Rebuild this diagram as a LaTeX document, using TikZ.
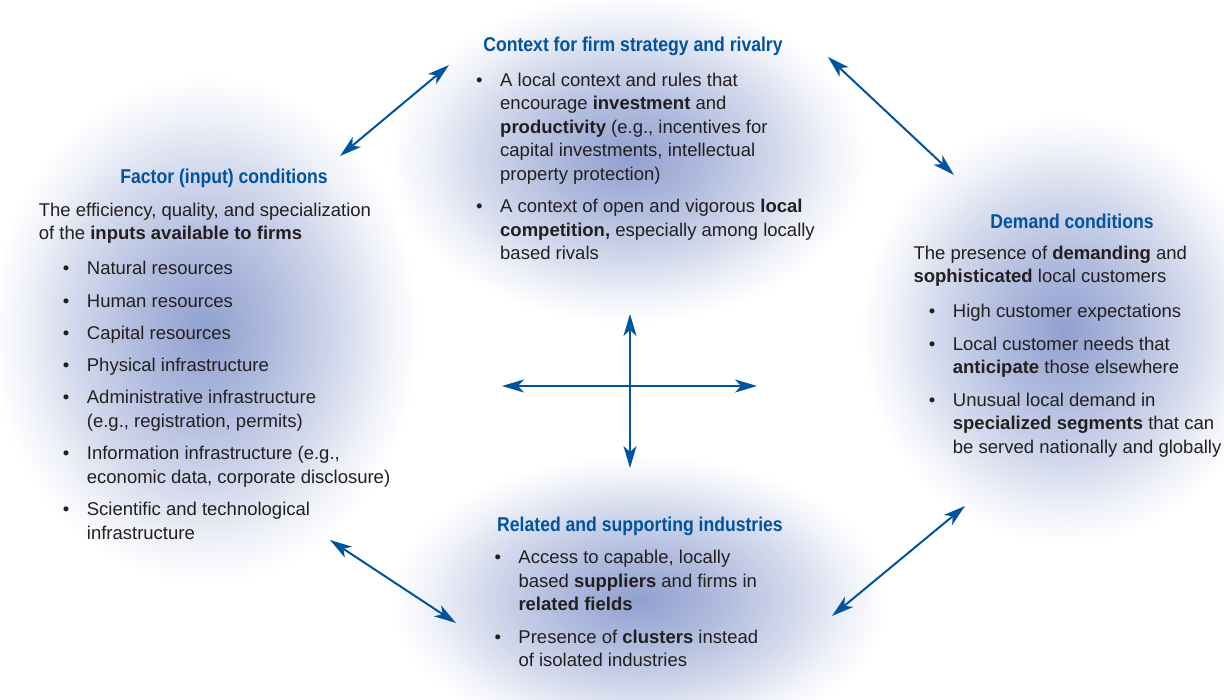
\documentclass[tikz,border=0pt]{standalone}
\usepackage{fontspec}
\setmainfont{Liberation Sans}
\newfontfamily\condfont{Liberation Sans}[FakeStretch=0.88]
\usetikzlibrary{arrows.meta}

\definecolor{porterblue}{RGB}{0,84,159}
\definecolor{glowblue}{RGB}{145,160,208}
\definecolor{textgray}{RGB}{35,31,32}
\pgfdeclareradialshading{glow}{\pgfpoint{0bp}{0bp}}{color(0bp)=(glowblue); color(8bp)=(glowblue!72!white); color(16bp)=(glowblue!38!white); color(21bp)=(glowblue!14!white); color(25bp)=(white); color(50bp)=(white)}

\newcommand{\blt}{\makebox[24pt][l]{\textbullet}}
\newcommand{\ind}{\hspace*{24pt}}

\begin{document}
\begin{tikzpicture}[x=1pt,y=-1pt,
  boxtitle/.style={anchor=base,inner sep=0pt,text=porterblue,font=\condfont\bfseries\fontsize{20}{24}\selectfont},
  boxtext/.style={anchor=base west,inner sep=0pt,align=left,text=textgray,font=\fontsize{18.5}{23.6}\selectfont},
  dbl/.style={draw=porterblue,line width=2pt,{Stealth[length=22pt,width=13pt,inset=6pt]}-{Stealth[length=22pt,width=13pt,inset=6pt]}}]
\useasboundingbox (0,0) rectangle (1224,700);

% glows
\shade[shading=glow] (628,158) ellipse [x radius=240,y radius=165];
\shade[shading=glow] (205,330) ellipse [x radius=215,y radius=255];
\shade[shading=glow] (1065,330) ellipse [x radius=205,y radius=215];
\shade[shading=glow] (640,600) ellipse [x radius=250,y radius=145];

% context for firm strategy (nodes sit on their last baseline)
\node[boxtitle] (ctitle) at (633,52) {Context for firm strategy and rivalry};
\node[boxtext] (clist) at (476,260) {\blt A local context and rules that\\
  \ind encourage \textbf{investment} and\\
  \ind\textbf{productivity} (e.g., incentives for\\
  \ind capital investments, intellectual\\
  \ind property protection)\\[8.7pt]
  \blt A context of open and vigorous \textbf{local}\\
  \ind\textbf{competition,} especially among locally\\
  \ind based rivals};

% factor conditions
\node[boxtitle] (ftitle) at (224,184) {Factor (input) conditions};
\node[boxtext] (ftext) at (38.7,240) {The efficiency, quality, and specialization\\
  of the \textbf{inputs available to firms}};
\node[boxtext] (flist) at (62.7,539.3) {\blt Natural resources\\[8.7pt]
  \blt Human resources\\[8.7pt]
  \blt Capital resources\\[8.7pt]
  \blt Physical infrastructure\\[8.7pt]
  \blt Administrative infrastructure\\
  \ind (e.g., registration, permits)\\[8.7pt]
  \blt Information infrastructure (e.g.,\\
  \ind economic data, corporate disclosure)\\[8.7pt]
  \blt Scientific and technological\\
  \ind infrastructure};

% demand conditions
\node[boxtitle] (dtitle) at (1072,228.3) {Demand conditions};
\node[boxtext] (dtext) at (913.3,282.7) {The presence of \textbf{demanding} and\\
  \textbf{sophisticated} local customers};
\node[boxtext] (dlist) at (928.7,453.3) {\blt High customer expectations\\[8.7pt]
  \blt Local customer needs that\\
  \ind\textbf{anticipate} those elsewhere\\[8.7pt]
  \blt Unusual local demand in\\
  \ind\textbf{specialized segments} that can\\
  \ind be served nationally and globally};

% related industries
\node[boxtitle] (rtitle) at (640,531.7) {Related and supporting industries};
\node[boxtext] (rlist) at (494.3,666.7) {\blt Access to capable, locally\\
  \ind based \textbf{suppliers} and firms in\\
  \ind\textbf{related fields}\\[8.7pt]
  \blt Presence of \textbf{clusters} instead\\
  \ind of isolated industries};

% arrows
\coordinate (fa) at (340,156); \coordinate (ca) at (449,65);
\coordinate (cb) at (828,57);  \coordinate (db) at (954,175);
\coordinate (fc) at (330,540); \coordinate (rc) at (456,623);
\coordinate (rd) at (832,616); \coordinate (dd) at (965,506);
\coordinate (hl) at (502,386); \coordinate (hr) at (757,386);
\coordinate (vt) at (630,314); \coordinate (vb) at (630,468);
\draw[dbl] (fa) -- (ca);
\draw[dbl] (cb) -- (db);
\draw[dbl] (fc) -- (rc);
\draw[dbl] (rd) -- (dd);
\draw[dbl] (hl) -- (hr);
\draw[dbl] (vt) -- (vb);
\end{tikzpicture}
\end{document}
